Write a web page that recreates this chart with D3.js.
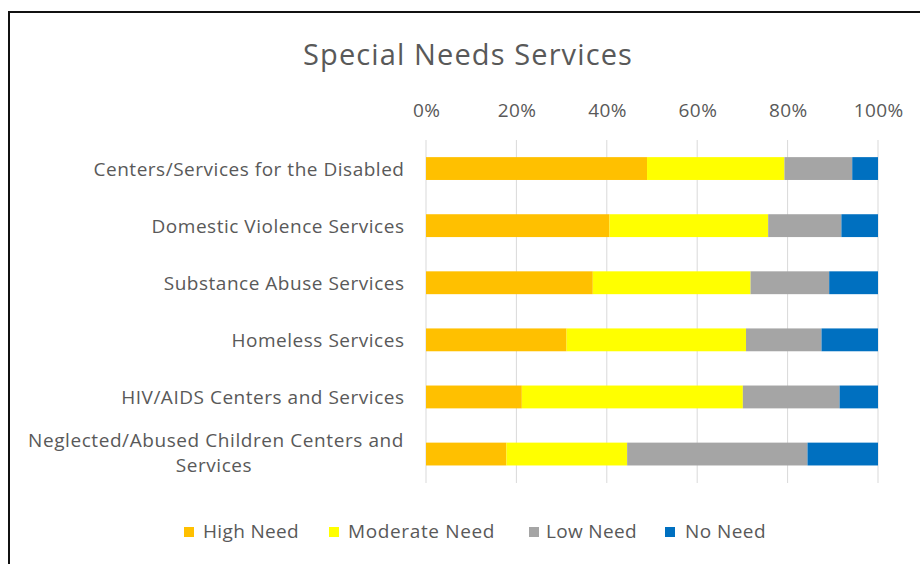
<!DOCTYPE html>
<html><head><meta charset="utf-8">
<script src="https://cdn.jsdelivr.net/npm/d3@7"></script>
<style>
html,body{margin:0;padding:0;background:#fff;overflow:hidden;width:920px;height:564px;}
svg{display:block;font-family:"Open Sans","Noto Sans",sans-serif;}
</style></head>
<body><svg id="c" width="920" height="564"></svg>
<script>
const categories = [
  "Centers/Services for the Disabled",
  "Domestic Violence Services",
  "Substance Abuse Services",
  "Homeless Services",
  "HIV/AIDS Centers and Services",
  "Neglected/Abused Children Centers and Services"
];
const seriesNames = ["High Need","Moderate Need","Low Need","No Need"];
const highNeed     = [48.9, 40.6, 36.9, 31.1, 21.2, 17.8];
const moderateNeed = [30.4, 35.1, 34.9, 39.7, 48.9, 26.7];
const lowNeed      = [15.0, 16.2, 17.4, 16.7, 21.4, 39.9];
const noNeed       = [ 5.7,  8.1, 10.8, 12.5,  8.5, 15.6];
const tickValues = [0, 0.2, 0.4, 0.6, 0.8, 1.0];
const colors = ["#FFC000","#FFFF00","#A5A5A5","#0070C0"];

const svg = d3.select("#c");
const textColor = "#595959";

function spacingFor(sel, target){
  const n = sel.text().length;
  const w = sel.node().getComputedTextLength();
  return (target - w) / n;
}

// background and frame (left and top edges only, the rest runs off the picture)
svg.append("rect").attr("x",0).attr("y",0).attr("width",920).attr("height",564).attr("fill","#fff");
svg.append("path").attr("d","M9,570 L9,12 L930,12")
  .attr("fill","none").attr("stroke","#111").attr("stroke-width",2);

const x = d3.scaleLinear().domain([0,1]).range([426,878]);
const y = d3.scaleBand().domain(categories).range([140,482.6]).paddingInner(0.6).paddingOuter(0.3);

const rows = categories.map((c,i)=>{
  const vals=[highNeed[i],moderateNeed[i],lowNeed[i],noNeed[i]];
  const tot=d3.sum(vals);
  const o={cat:c}; seriesNames.forEach((s,j)=>o[s]=vals[j]/tot); return o;
});
const stacked = d3.stack().keys(seriesNames)(rows);

// title
const title = svg.append("text").attr("x",303).attr("y",65)
  .attr("font-size",29).attr("fill",textColor).text("Special Needs Services");
title.attr("letter-spacing", spacingFor(title,330));

// gridlines
svg.append("g").selectAll("line").data(tickValues).join("line")
  .attr("x1",d=>x(d)).attr("x2",d=>x(d)).attr("y1",140).attr("y2",483)
  .attr("stroke","#D9D9D9").attr("stroke-width",1);

// top axis
const ax = svg.append("g").attr("transform","translate(0,117)")
  .call(d3.axisTop(x).tickValues(tickValues).tickFormat(d3.format(".0%")).tickSize(0).tickPadding(0));
ax.select(".domain").remove();
ax.selectAll("text").attr("font-size",19).attr("fill",textColor)
  .attr("font-family","'Open Sans','Noto Sans',sans-serif");
{
  const last = ax.selectAll("text").filter(d=>d===1);
  const ls = spacingFor(last,50);
  ax.selectAll("text").attr("letter-spacing",ls).attr("dx",ls/2);
}

// bars
svg.append("g").selectAll("g").data(stacked).join("g").attr("fill",(d,i)=>colors[i])
  .selectAll("rect").data(d=>d).join("rect")
  .attr("x",d=>x(d[0])).attr("width",d=>x(d[1])-x(d[0]))
  .attr("y",d=>y(d.data.cat)).attr("height",y.bandwidth());

// category labels
const labFont = 19;
const lab = svg.append("g").attr("fill",textColor).attr("font-size",labFont);
const probe = lab.append("text").text(categories[0]);
const labLS = spacingFor(probe,311);
probe.remove();
categories.forEach(c=>{
  const cy = y(c)+y.bandwidth()/2;
  if(c.length>40){
    const l1="Neglected/Abused Children Centers and", l2="Services";
    const t1 = lab.append("text").attr("y",cy-7.5).text(l1);
    const ls1 = spacingFor(t1,376);
    t1.attr("letter-spacing",ls1);
    const w1 = 376;
    const cx = 404 - w1/2;
    t1.attr("x",404-w1);
    const t2 = lab.append("text").attr("y",cy+18).attr("letter-spacing",ls1).text(l2);
    const w2 = t2.node().getComputedTextLength() + ls1*l2.length - ls1;
    t2.attr("x",cx - w2/2);
  } else {
    lab.append("text").attr("x",404).attr("y",cy+7).attr("text-anchor","end")
      .attr("letter-spacing",labLS).attr("dx",labLS).text(c);
  }
});

// legend
const swX=[184,329,529,665], txX=[203,348,546,685], txW=[96,147,91,81];
const lg = svg.append("g");
seriesNames.forEach((s,i)=>{
  lg.append("rect").attr("x",swX[i]).attr("y",527).attr("width",10).attr("height",10).attr("fill",colors[i]);
  const t = lg.append("text").attr("x",txX[i]).attr("y",538).attr("font-size",19).attr("fill",textColor).text(s);
  t.attr("letter-spacing", spacingFor(t,txW[i]));
});
</script></body></html>
